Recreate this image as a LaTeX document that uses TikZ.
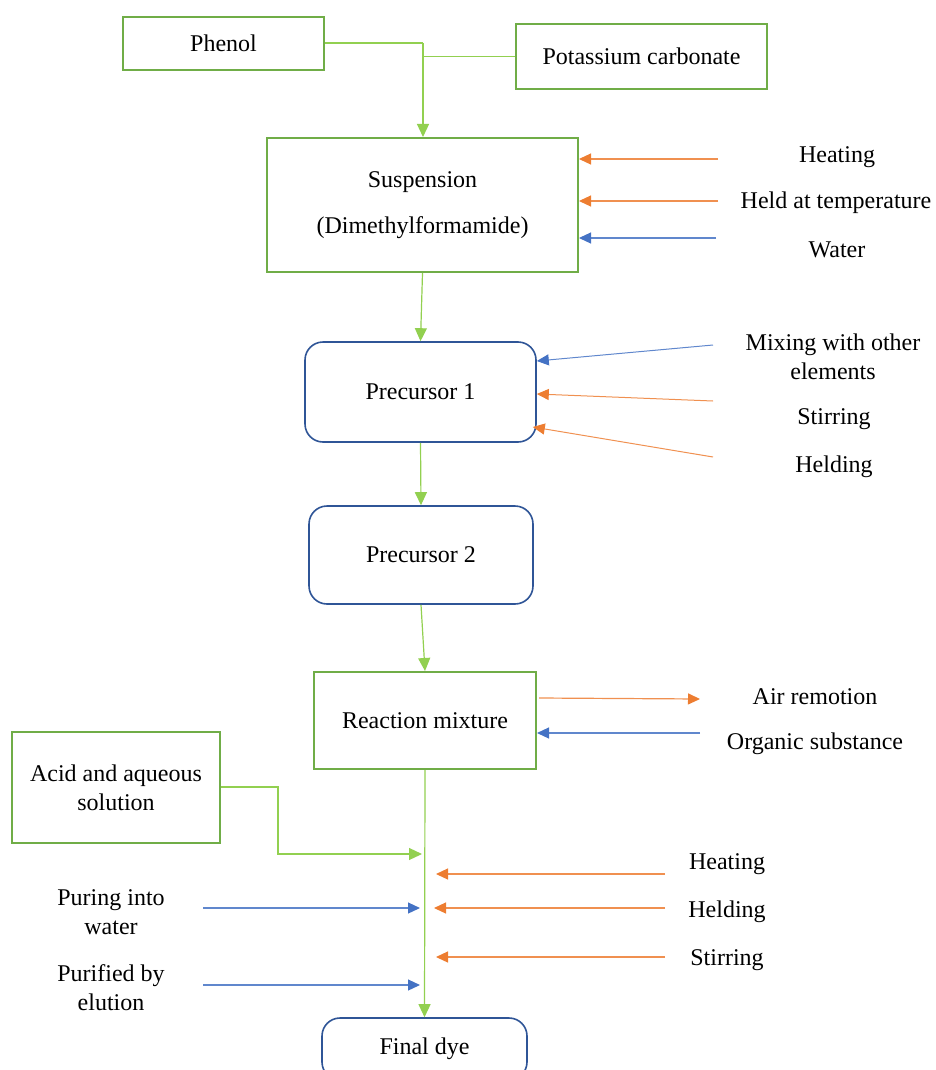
\documentclass[tikz,border=0pt]{standalone}
\usepackage{fontspec}
\setmainfont{Liberation Serif}
\usetikzlibrary{arrows.meta,calc}
\definecolor{gbox}{HTML}{70AD47}
\definecolor{gline}{HTML}{92D050}
\definecolor{bbox}{HTML}{2F5597}
\definecolor{bline}{HTML}{4472C4}
\definecolor{oline}{HTML}{ED7D31}
\begin{document}
\begin{tikzpicture}[x=1pt,y=-1pt,
  txt/.style={font=\fontsize{24}{29}\selectfont, align=center, inner sep=0pt},
  gbx/.style={txt, draw=gbox, line width=2pt, fill=white},
  bbx/.style={txt, draw=bbox, line width=1.6pt, fill=white, rounded corners=18pt},
  garr/.style={draw=gline, line width=1.2pt, -{Triangle[length=13pt,width=12pt,color=gline]}},
  gln/.style={draw=gline, line width=1.2pt},
  oarr/.style={draw=oline!85, line width=1.2pt, -{Triangle[length=12pt,width=11pt,color=oline]}},
  barr/.style={draw=bline!85, line width=1.2pt, -{Triangle[length=12pt,width=11pt,color=bline]}}
]
\useasboundingbox (0,0) rectangle (935,1070);
\clip (0,0) rectangle (935,1070);

% boxes
\node[gbx, minimum width=201pt, minimum height=53pt] (phenol) at (223.5,43.5) {Phenol};
\node[gbx, minimum width=251pt, minimum height=65pt] (pot) at (641.5,56.5) {Potassium carbonate};
\node[gbx, font=\fontsize{24}{46}\selectfont, minimum width=311pt, minimum height=134pt] (susp) at (422.5,205) {Suspension\\(Dimethylformamide)};
\node[bbx, minimum width=231pt, minimum height=100pt] (p1) at (420.5,392) {Precursor 1};
\node[bbx, minimum width=224pt, minimum height=98pt] (p2) at (421,555) {Precursor 2};
\node[gbx, minimum width=222pt, minimum height=97pt] (rm) at (425,720.5) {Reaction mixture};
\node[gbx, minimum width=208pt, minimum height=111pt] (acid) at (116,787.5) {Acid and aqueous\\solution};
\node[bbx, minimum width=205pt, minimum height=62pt] (fd) at (424.5,1049) {Final dye};

% labels
\node[txt] (lh1) at (837,157) {Heating};
\node[txt] (lh2) at (836,203) {Held at temperature};
\node[txt] (lw1) at (837,250) {Water};
\node[txt] (lmix) at (833,357) {Mixing with other\\elements};
\node[txt] (lst1) at (834,419) {Stirring};
\node[txt] (lhe1) at (834,467) {Helding};
\node[txt] (lair) at (815,697) {Air remotion};
\node[txt] (lorg) at (815,744) {Organic substance};
\node[txt] (lh3) at (727,864) {Heating};
\node[txt] (lhe2) at (727,912) {Helding};
\node[txt] (lst2) at (727,960) {Stirring};
\node[txt] (lpur) at (111,912) {Puring into\\water};
\node[txt] (lelu) at (111,988) {Purified by\\elution};

% free ends
\coordinate (j1) at (423,43);
\coordinate (h1) at (718,159);
\coordinate (h2) at (718,201);
\coordinate (w1) at (716,238);
\coordinate (m1) at (713,345);
\coordinate (s1) at (713,401);
\coordinate (e1) at (713,457);
\coordinate (a1) at (700,699);
\coordinate (o1) at (700,733);
\coordinate (ja) at (422,854);
\coordinate (h3) at (665,874);
\coordinate (e2) at (665,908);
\coordinate (s2) at (665,957);
\coordinate (pu) at (203,908);
\coordinate (pe) at (203,985);

% top connectors
\draw[gln] (phenol.east |- j1) -- (j1);
\draw[gln] (pot.west) -- (pot.west -| j1);
\draw[garr] (j1) -- (j1 |- susp.north);

% suspension inputs
\draw[oarr] (h1) -- (h1 -| susp.east);
\draw[oarr] (h2) -- (h2 -| susp.east);
\draw[barr] (w1) -- (w1 -| susp.east);

% chain
\draw[garr] (susp.south) -- (p1.north);
\draw[garr] (p1.south) -- (p2.north);
\draw[garr] (p2.south) -- (rm.north);

% precursor 1 inputs
\draw[barr, line width=1pt] (m1) -- ([yshift=31pt]p1.east);
\draw[oarr, line width=1pt] (s1) -- ([yshift=-2pt]p1.east);
\draw[oarr, line width=1pt] (e1) -- ([yshift=-35pt,xshift=-4pt]p1.east);

% reaction mixture
\draw[oarr] ([yshift=22.5pt,xshift=2pt]rm.east) -- (a1);
\draw[barr] (o1) -- ([yshift=-12.5pt]rm.east);

% main line
\draw[garr] (rm.south) -- (fd.north);
\draw[garr] ([yshift=0.5pt]acid.east) -- ++(57,0) |- (ja);

% side inputs on main line
\draw[oarr] (h3) -- ($(h3 -| rm.south)+(11,0)$);
\draw[oarr] (e2) -- ($(e2 -| rm.south)+(9,0)$);
\draw[oarr] (s2) -- ($(s2 -| rm.south)+(11,0)$);
\draw[barr] (pu) -- ($(pu -| rm.south)+(-5,0)$);
\draw[barr] (pe) -- ($(pe -| rm.south)+(-5,0)$);
\end{tikzpicture}
\end{document}
